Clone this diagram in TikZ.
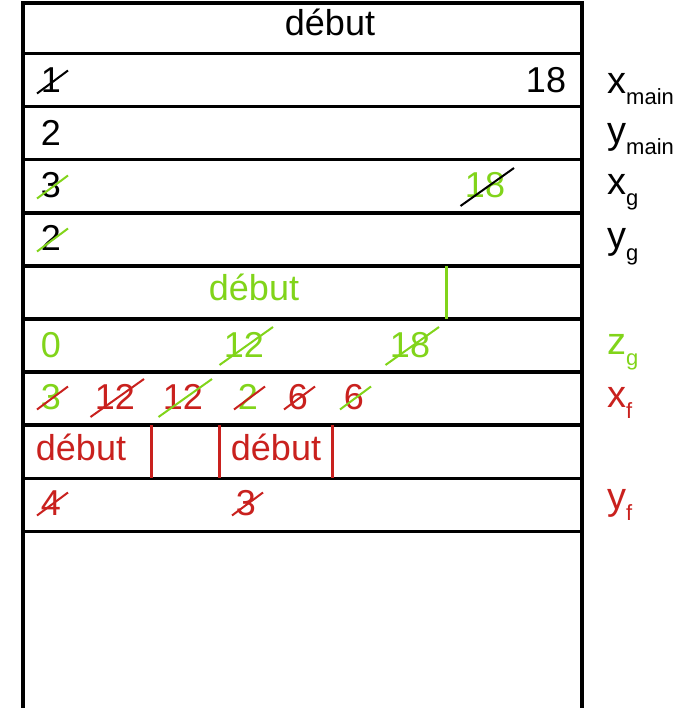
\documentclass[tikz,border=0pt]{standalone}
\usepackage{fontspec}
\setmainfont{Liberation Sans}
\definecolor{vert}{HTML}{81D41A}
\definecolor{rouge}{HTML}{C9211E}
\tikzset{
  case/.style={inner sep=0pt, anchor=base, font=\fontsize{36}{36}\selectfont},
  etiquette/.style={inner sep=0pt, anchor=base west, font=\fontsize{38}{38}\selectfont},
  trait/.style={line width=3.5pt},
  separ/.style={line width=3pt},
  barre/.style={line width=2pt},
}
\newcommand{\etiq}[2]{#1\raisebox{-11pt}{\fontsize{22}{22}\selectfont #2}}
% barre sur un chiffre / sur deux chiffres
\newcommand{\raye}[2]{\draw[barre, #2] ([shift={(-14,0.5)}]#1.base) -- ([shift={(17,-22.5)}]#1.base);}
\newcommand{\rayee}[2]{\draw[barre, #2] ([shift={(-24.5,8)}]#1.base) -- ([shift={(29,-30)}]#1.base);}
\begin{document}
\begin{tikzpicture}[x=1pt, y=-1pt]
  \useasboundingbox (0,0) rectangle (677,708);

  % Cadre
  \draw[trait] (23,708) -- (23,3) -- (582,3) -- (582,708);
  \foreach \k in {0,...,9}
    \draw[trait] (23,53.5+53.1*\k) -- (582,53.5+53.1*\k);

  % Ligne du haut
  \node[case] (debut) at (330,36) {début};

  % x_main
  \node[case] (xm1) at (51,93) {1};
  \node[case] (xm18) at (546,93) {18};
  \raye{xm1}{black}

  % y_main
  \node[case] (ym2) at (51,146) {2};

  % x_g
  \node[case] (xg3) at (51,198) {3};
  \node[case, vert] (xg18) at (485,198) {18};
  \raye{xg3}{vert}
  \rayee{xg18}{black}

  % y_g
  \node[case] (yg2) at (51,251) {2};
  \raye{yg2}{vert}

  % début de g
  \node[case, vert] (debutg) at (254,300) {début};
  \draw[separ, vert] (446,266) -- (446,319);

  % z_g
  \node[case, vert] (zg0) at (51,357) {0};
  \node[case, vert] (zg12) at (244,357) {12};
  \node[case, vert] (zg18) at (410,357) {18};
  \rayee{zg12}{vert}
  \rayee{zg18}{vert}

  % x_f
  \node[case, vert] (xf3) at (51,409) {3};
  \node[case, rouge] (xf12a) at (115,409) {12};
  \node[case, rouge] (xf12b) at (183,409) {12};
  \node[case, vert] (xf2) at (248,409) {2};
  \node[case, rouge] (xf6a) at (298,409) {6};
  \node[case, rouge] (xf6b) at (354,409) {6};
  \raye{xf3}{rouge}
  \rayee{xf12a}{rouge}
  \rayee{xf12b}{vert}
  \raye{xf2}{rouge}
  \raye{xf6a}{rouge}
  \raye{xf6b}{vert}

  % début de f
  \node[case, rouge] (debutf1) at (81,460) {début};
  \node[case, rouge] (debutf2) at (276,460) {début};
  \foreach \x in {151,219,332}
    \draw[separ, rouge] (\x,425) -- (\x,478);

  % y_f
  \node[case, rouge] (yf4) at (51,515) {4};
  \node[case, rouge] (yf3) at (246,515) {3};
  \raye{yf4}{rouge}
  \raye{yf3}{rouge}

  % Etiquettes
  \node[etiquette] (lxm) at (607,94) {\etiq{x}{main}};
  \node[etiquette] (lym) at (607,144) {\etiq{y}{main}};
  \node[etiquette] (lxg) at (607,195) {\etiq{x}{g}};
  \node[etiquette] (lyg) at (607,249) {\etiq{y}{g}};
  \node[etiquette, vert] (lzg) at (607,354) {\etiq{z}{g}};
  \node[etiquette, rouge] (lxf) at (607,407) {\etiq{x}{f}};
  \node[etiquette, rouge] (lyf) at (607,509) {\etiq{y}{f}};
\end{tikzpicture}
\end{document}
